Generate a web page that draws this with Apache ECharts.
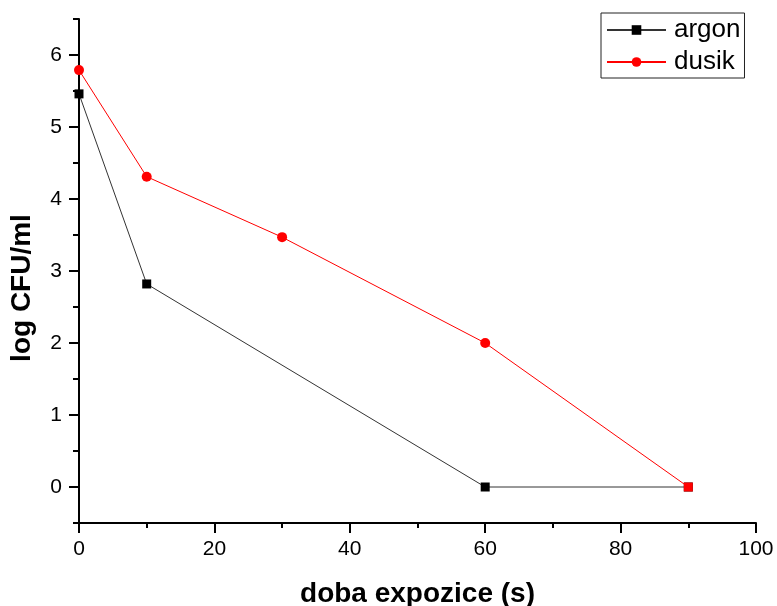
<!DOCTYPE html>
<html>
<head>
<meta charset="utf-8">
<script src="https://cdn.jsdelivr.net/npm/echarts@6/dist/echarts.min.js"></script>
<style>
  html, body { margin: 0; padding: 0; background: #fff; }
  #main { width: 777px; height: 606px; }
</style>
</head>
<body>
<div id="main"></div>
<script>
// doba expozice (s)
var argonX = [0, 10, 60, 90];
var argonY = [5.46, 2.82, 0, 0];
var dusikX = [0, 10, 30, 60, 90];
var dusikY = [5.79, 4.31, 3.47, 2.0, 0];
var yMajor = [0, 1, 2, 3, 4, 5, 6];
var yMinor = [-0.5, 0.5, 1.5, 2.5, 3.5, 4.5, 5.5, 6.5];

var pairs = function(xs, ys) {
    return xs.map(function(x, i) { return [x, ys[i]]; });
};

var font = '"Liberation Sans", Arial, sans-serif';

var dusikData = pairs(dusikX, dusikY).map(function(p, i) {
    // posledni bod je v originale ctverec
    if (i === dusikX.length - 1) {
        return { value: p, symbol: 'rect', symbolSize: 9 };
    }
    return p;
});

var axisBlack = { color: '#000', width: 2 };

var option = {
    animation: false,
    backgroundColor: '#fff',
    textStyle: { fontFamily: font },
    grid: { left: 79, right: 21, top: 19, bottom: 83, outerBoundsMode: 'none' },
    legend: {
        orient: 'vertical',
        left: 601,
        top: 13,
        padding: [4, 4, 3, 5],
        itemWidth: 59,
        itemHeight: 12,
        itemGap: 6,
        borderColor: '#222',
        borderWidth: 1,
        textStyle: { fontFamily: font, fontSize: 26, color: '#000', padding: [0, 0, 0, 3] },
        data: ['argon', 'dusik']
    },
    xAxis: {
        type: 'value',
        min: 0,
        max: 100,
        interval: 20,
        name: 'doba expozice (s)',
        nameLocation: 'middle',
        nameGap: 57,
        nameTextStyle: { fontFamily: font, fontSize: 28, fontWeight: 'bold', color: '#000' },
        axisLine: { show: true, onZero: false, lineStyle: axisBlack },
        axisTick: { show: true, inside: false, length: 10, lineStyle: axisBlack },
        minorTick: { show: true, splitNumber: 2, length: 5, lineStyle: axisBlack },
        axisLabel: { fontFamily: font, fontSize: 21, color: '#000', margin: 16 },
        splitLine: { show: false }
    },
    yAxis: [{
        type: 'value',
        min: -0.5,
        max: 6.5,
        interval: 0.5,
        name: 'log CFU/ml',
        nameLocation: 'middle',
        nameGap: 43,
        nameTextStyle: { fontFamily: font, fontSize: 28, fontWeight: 'bold', color: '#000', padding: [0, 34, 0, 0] },
        axisLine: { show: true, onZero: false, lineStyle: axisBlack },
        axisTick: { show: true, inside: false, length: 10, customValues: yMajor, lineStyle: axisBlack },
        axisLabel: { fontFamily: font, fontSize: 21, color: '#000', margin: 17, customValues: yMajor },
        splitLine: { show: false }
    }, {
        // vedlejsi znacky
        type: 'value',
        position: 'left',
        min: -0.5,
        max: 6.5,
        interval: 0.5,
        axisLine: { show: false },
        axisTick: { show: true, inside: false, length: 6, customValues: yMinor, lineStyle: axisBlack },
        axisLabel: { show: false },
        splitLine: { show: false }
    }],
    series: [{
        name: 'argon',
        type: 'line',
        data: pairs(argonX, argonY),
        symbol: 'rect',
        symbolSize: 9,
        itemStyle: { color: '#000' },
        lineStyle: { color: '#333', width: 1 },
        z: 2
    }, {
        name: 'dusik',
        type: 'line',
        data: dusikData,
        symbol: 'circle',
        symbolSize: 10,
        itemStyle: { color: '#ff0000' },
        lineStyle: { color: '#ff0000', width: 1 },
        z: 3
    }]
};

var myChart = echarts.init(document.getElementById('main'));
myChart.setOption(option);
</script>
</body>
</html>
